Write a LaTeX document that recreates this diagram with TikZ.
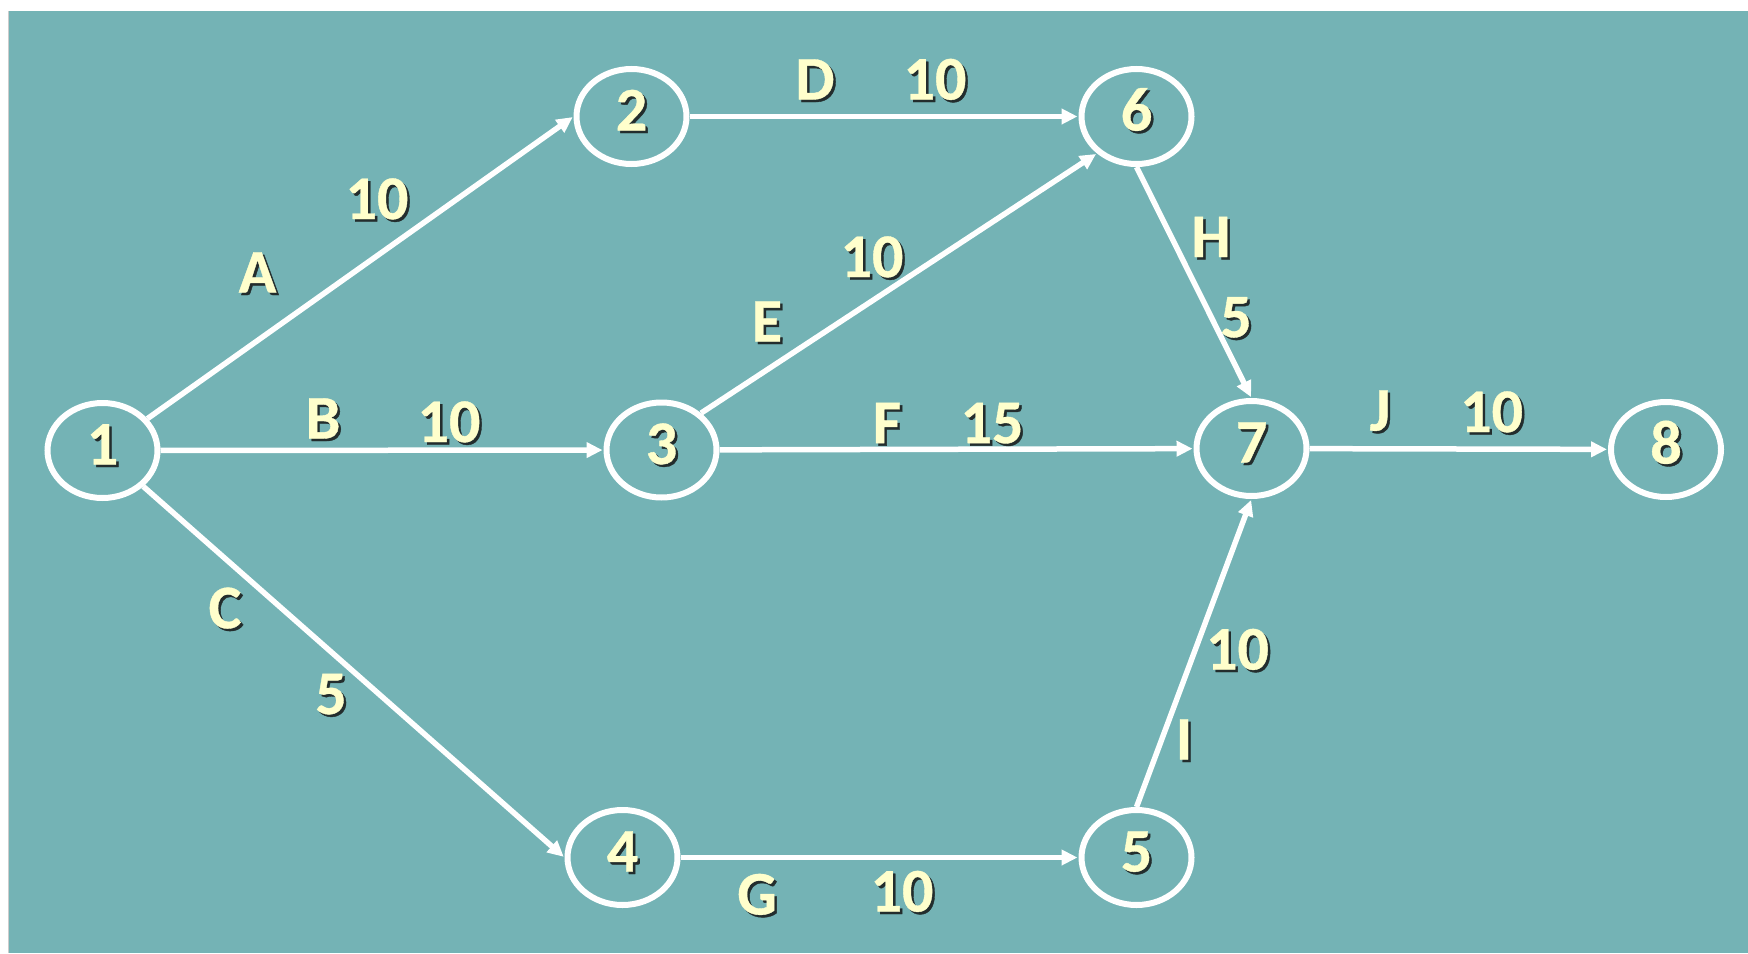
\documentclass[tikz,border=0pt]{standalone}
\usepackage{fontspec}
\setmainfont{Carlito}[BoldFeatures={FakeBold=0.6}]
\usetikzlibrary{arrows.meta,shapes.geometric}
\definecolor{bgteal}{RGB}{116,179,181}
\definecolor{lblyellow}{RGB}{255,255,204}
\definecolor{shadowc}{RGB}{35,45,45}
\newcommand\lab[4]{%
  \node[shd,xshift=2.5pt,yshift=-2.5pt] (#1s) at (#2,#3) {#4};
  \node[txt] (#1) at (#2,#3) {#4};}
\newcommand\ev[4]{%
  \node[evshd,xshift=2.5pt,yshift=-2.5pt] (#1s) at (#2,#3) {#4};
  \node[ev] (#1) at (#2,#3) {#4};}
\begin{document}
\begin{tikzpicture}[x=1pt,y=-1pt,
  lblfont/.style={font=\fontsize{62}{62}\selectfont\bfseries},
  txt/.style={lblfont,text=lblyellow,text height=39pt,text depth=0pt,inner sep=0pt},
  shd/.style={lblfont,text=shadowc,text height=39pt,text depth=0pt,inner sep=0pt},
  ev/.style={ellipse,draw=white,line width=6pt,minimum width=110pt,minimum height=95pt,inner sep=0pt,
    lblfont,text=lblyellow,text height=39pt,text depth=11pt},
  evshd/.style={ellipse,minimum width=110pt,minimum height=95pt,inner sep=0pt,
    lblfont,text=shadowc,text height=39pt,text depth=11pt},
  act/.style={draw=white,line width=5.5pt,-{Triangle[length=16pt,width=15pt]},shorten >=1pt}
]
\useasboundingbox (0,0) rectangle (1748,953);
\fill[white] (0,0) rectangle (1748,953);
\fill[bgteal] (8,11) rectangle (1748,953);
\draw[black!20,line width=1pt] (8.5,11) -- (8.5,953);

\ev{n1}{102.5}{450.5}{1}
\ev{n2}{631.5}{116.5}{2}
\ev{n3}{661.5}{450}{3}
\ev{n4}{622.5}{857.5}{4}
\ev{n5}{1136.5}{857.5}{5}
\ev{n6}{1136.5}{116.5}{6}
\ev{n7}{1251.5}{448.5}{7}
\ev{n8}{1666}{449.5}{8}

\draw[act] (n1) -- (n2.west);
\draw[act] (n1) -- (n3);
\draw[act] (n1) -- (n4.west);
\draw[act] (n2) -- (n6);
\draw[act] (n3.43) -- (n6.223);
\draw[act] (n3) -- (n7);
\draw[act] (n4) -- (n5);
\draw[act] (n6.south) -- (n7.north);
\draw[act] (n5.north) -- (n7.south);
\draw[act] (n7) -- (n8);

\lab{la}{257.5}{273}{A}
\lab{da}{377}{199.5}{10}
\lab{ld}{815}{80}{D}
\lab{dd}{935}{80}{10}
\lab{de}{872}{257.5}{10}
\lab{le}{767}{322}{E}
\lab{lh}{1211}{237.5}{H}
\lab{dh}{1236}{317.7}{5}
\lab{lb}{323}{419}{B}
\lab{db}{449}{422.5}{10}
\lab{lf}{887}{423.6}{F}
\lab{df}{992}{423.6}{15}
\lab{lj}{1380}{411}{J}
\lab{dj}{1491.6}{412.5}{10}
\lab{lc}{225}{608.7}{C}
\lab{dc}{331}{694.5}{5}
\lab{di}{1237.5}{650}{10}
\lab{li}{1184}{740}{I}
\lab{lg}{757}{895}{G}
\lab{dg}{902}{892}{10}
\end{tikzpicture}
\end{document}
